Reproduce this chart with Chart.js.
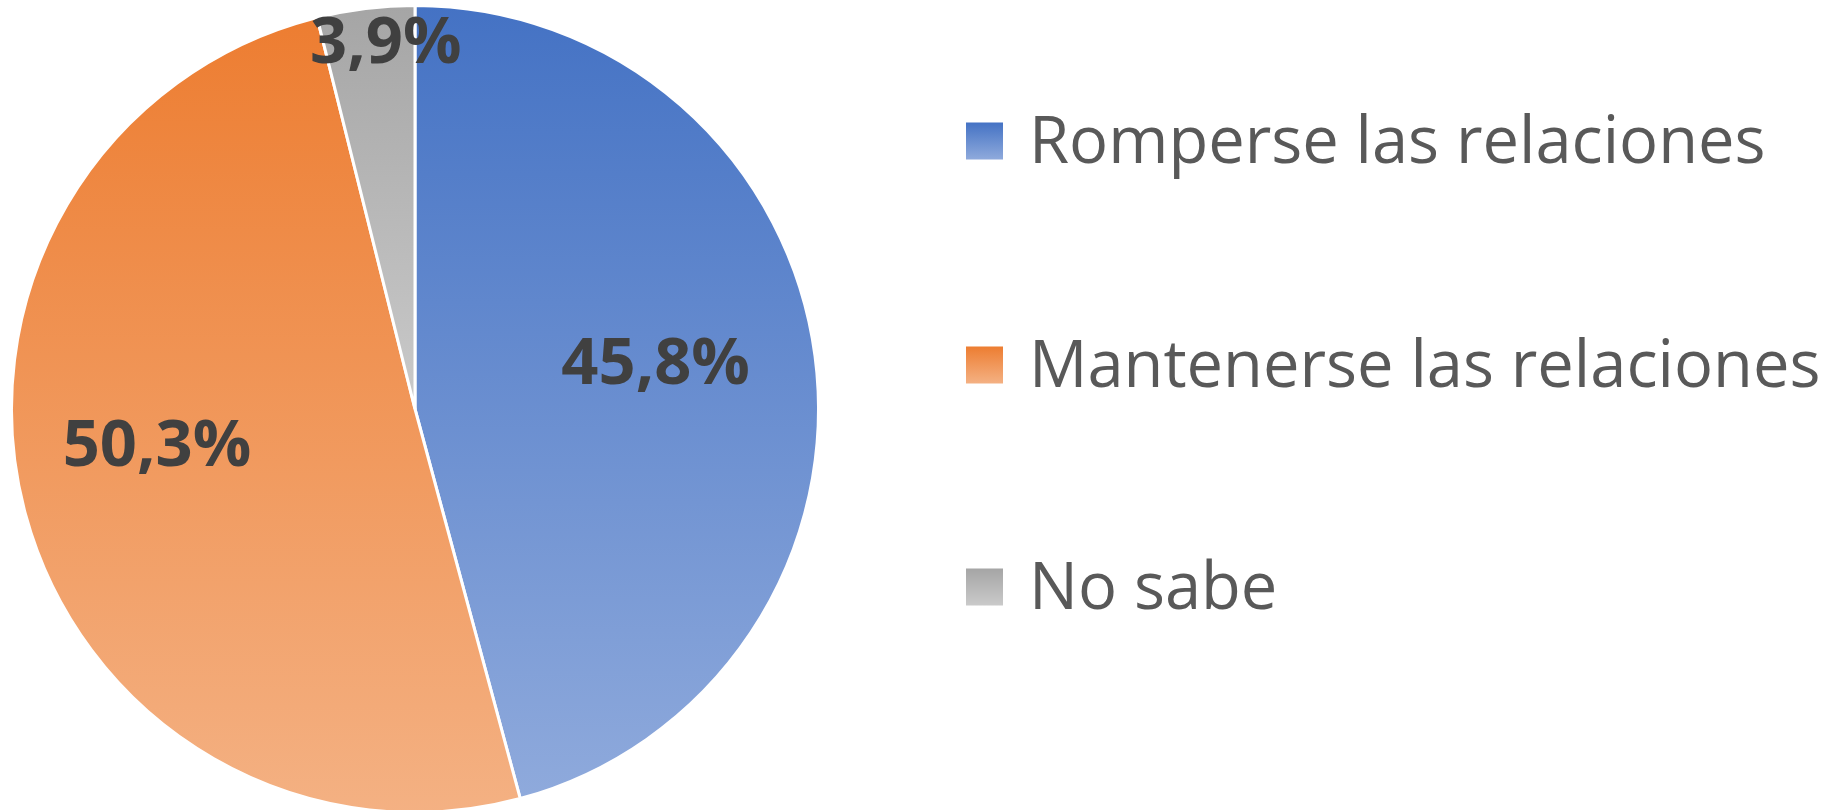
<!DOCTYPE html>
<html>
<head>
<meta charset="utf-8">
<script src="https://cdn.jsdelivr.net/npm/chart.js@4/dist/chart.umd.min.js"></script>
<style>
  html, body { margin: 0; padding: 0; background: #ffffff; overflow: hidden; }
  #wrap { position: absolute; left: 0; top: 0; width: 1840px; height: 816px; }
</style>
</head>
<body>
<div id="wrap"><canvas id="c"></canvas></div>
<script>
// ---- data ----
const categories = ['Romperse las relaciones', 'Mantenerse las relaciones', 'No sabe'];
const values = [45.8, 50.3, 3.9];

// ---- styles ----
const topColors = ['#4472C4', '#ED7D31', '#A5A5A5'];
const bottomColors = ['#8FAADC', '#F4B183', '#CACACA'];
const labelAngleOffsetDeg = [-3.7, 7.1, 2.5];
const labelRadiusFrac = [0.608, 0.645, 0.918];

function fmt(v) { return v.toFixed(1).replace('.', ',') + '%'; }

function sliceYRange(chart, i) {
  const ca = chart.chartArea;
  const cx = (ca.left + ca.right) / 2, cy = (ca.top + ca.bottom) / 2;
  const r = Math.min(ca.width, ca.height) / 2;
  const total = values.reduce((a, b) => a + b, 0);
  let cum = 0;
  for (let k = 0; k < i; k++) cum += values[k];
  const s = -Math.PI / 2 + 2 * Math.PI * cum / total;
  const e = s + 2 * Math.PI * values[i] / total;
  const ys = [cy, cy + r * Math.sin(s), cy + r * Math.sin(e)];
  const inRange = (a) => {
    for (let k = -2; k <= 2; k++) {
      const t = a + 2 * Math.PI * k;
      if (t >= s && t <= e) return true;
    }
    return false;
  };
  if (inRange(-Math.PI / 2)) ys.push(cy - r);
  if (inRange(Math.PI / 2)) ys.push(cy + r);
  return [Math.min(...ys), Math.max(...ys)];
}

const labelPlugin = {
  id: 'sliceLabels',
  afterDatasetsDraw(chart) {
    const ctx = chart.ctx;
    const meta = chart.getDatasetMeta(0);
    ctx.save();
    ctx.font = 'bold 65px "Open Sans"';
    ctx.fillStyle = '#404040';
    ctx.textAlign = 'center';
    ctx.textBaseline = 'alphabetic';
    meta.data.forEach((arc, i) => {
      const mid = (arc.startAngle + arc.endAngle) / 2 + labelAngleOffsetDeg[i] * Math.PI / 180;
      const rr = arc.outerRadius * labelRadiusFrac[i];
      const x = arc.x + rr * Math.cos(mid);
      const y = arc.y + rr * Math.sin(mid);
      ctx.fillText(fmt(values[i]), x, y + 23);
    });
    ctx.restore();
  }
};

const legendPlugin = {
  id: 'sideLegend',
  afterDraw(chart) {
    const ctx = chart.ctx;
    const boxX = 966, boxSize = 37, textX = 1029;
    const centersY = [141, 365, 587];
    ctx.save();
    ctx.font = '65px "Open Sans"';
    ctx.fillStyle = '#595959';
    ctx.textAlign = 'left';
    ctx.textBaseline = 'alphabetic';
    categories.forEach((name, i) => {
      const top = centersY[i] - boxSize / 2;
      const g = ctx.createLinearGradient(0, top, 0, top + boxSize);
      g.addColorStop(0, topColors[i]);
      g.addColorStop(1, bottomColors[i]);
      ctx.fillStyle = g;
      ctx.fillRect(boxX, top, boxSize, boxSize);
      ctx.fillStyle = '#595959';
      ctx.fillText(name, textX, centersY[i] + 22);
    });
    ctx.restore();
  }
};

new Chart(document.getElementById('c'), {
  type: 'pie',
  data: {
    labels: categories,
    datasets: [{
      data: values,
      backgroundColor: (c) => {
        const chart = c.chart;
        const i = c.dataIndex;
        if (!chart.chartArea || i === undefined) return topColors[i || 0];
        const [y0, y1] = sliceYRange(chart, i);
        const g = chart.ctx.createLinearGradient(0, y0, 0, y1);
        g.addColorStop(0, topColors[i]);
        g.addColorStop(1, bottomColors[i]);
        return g;
      },
      borderColor: '#ffffff',
      borderWidth: 3
    }]
  },
  options: {
    responsive: true,
    maintainAspectRatio: false,
    animation: false,
    layout: { padding: { left: 10, top: 4, right: 1020, bottom: 2 } },
    plugins: {
      legend: { display: false },
      tooltip: { enabled: false }
    }
  },
  plugins: [labelPlugin, legendPlugin]
});
</script>
</body>
</html>
